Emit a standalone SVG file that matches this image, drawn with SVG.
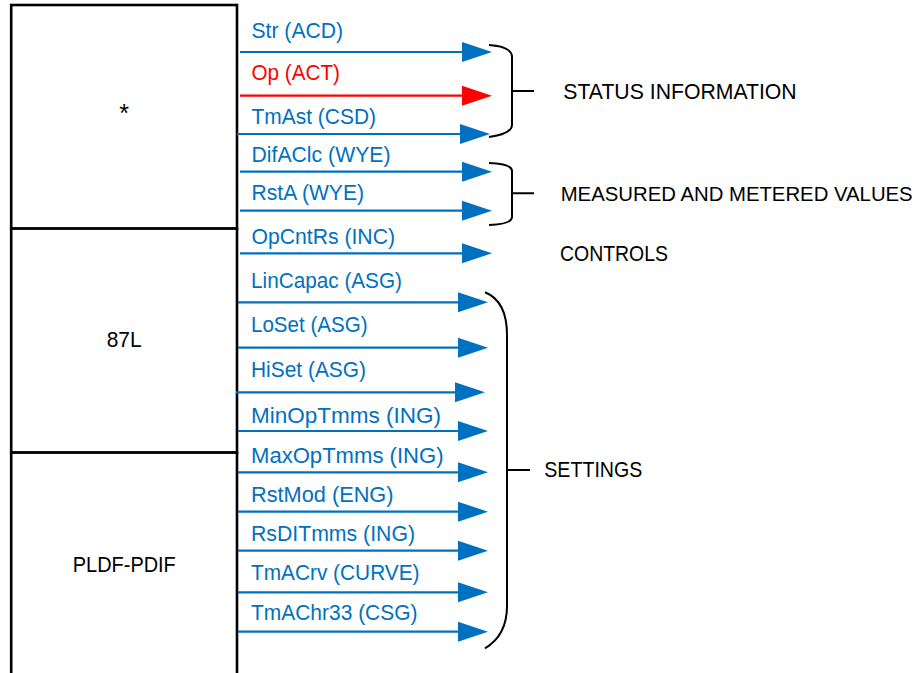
<svg xmlns="http://www.w3.org/2000/svg" width="924" height="673" viewBox="0 0 924 673">
  <style>
    .box { fill: #ffffff; stroke: #000000; stroke-width: 2.6; }
    .txt { font-family: "Liberation Sans", Arial, sans-serif; font-size: 22px; fill: #000000; }
    .lbl { font-family: "Liberation Sans", Arial, sans-serif; font-size: 22px; fill: #0070C0; }
    .lbl.red { fill: #FF0000; }
    .wire { stroke: #0070C0; stroke-width: 2.2; fill: none; marker-end: url(#headBlue); }
    .wire.red { stroke: #FF0000; marker-end: url(#headRed); }
    .brace { stroke: #000000; stroke-width: 2; fill: none; }
  </style>
  <defs>
    <marker id="headBlue" markerUnits="userSpaceOnUse" markerWidth="30" markerHeight="20" refX="20" refY="10" orient="auto" overflow="visible">
      <path d="M0,0 L30,10 L0,20 Z" fill="#0070C0"/>
    </marker>
    <marker id="headRed" markerUnits="userSpaceOnUse" markerWidth="30" markerHeight="20" refX="20" refY="10" orient="auto" overflow="visible">
      <path d="M0,0 L30,10 L0,20 Z" fill="#FF0000"/>
    </marker>
  </defs>

  <!-- logical node stack -->
  <g id="node-common">
    <rect class="box" x="11.2" y="5" width="225.8" height="223.6"/>
    <text class="txt" x="124" y="122" text-anchor="middle" style="font-size:25px">*</text>
  </g>
  <g id="node-87L">
    <rect class="box" x="11.2" y="228.6" width="225.8" height="224"/>
    <text class="txt" x="124.2" y="347.3" text-anchor="middle" textLength="35" lengthAdjust="spacingAndGlyphs">87L</text>
  </g>
  <g id="node-pldf-pdif">
    <rect class="box" x="11.2" y="452.6" width="225.8" height="260"/>
    <text class="txt" x="124.3" y="571.7" text-anchor="middle" textLength="103" lengthAdjust="spacingAndGlyphs">PLDF-PDIF</text>
  </g>

  <!-- data objects -->
  <g id="connectors">
    <line class="wire" x1="240" y1="52" x2="482" y2="52"/>
    <text class="lbl" x="251.5" y="38" textLength="91.5" lengthAdjust="spacingAndGlyphs">Str (ACD)</text>

    <line class="wire red" x1="240" y1="95.7" x2="482" y2="95.7"/>
    <text class="lbl red" x="251.5" y="80" textLength="88.5" lengthAdjust="spacingAndGlyphs">Op (ACT)</text>

    <line class="wire" x1="237" y1="134" x2="480" y2="134"/>
    <text class="lbl" x="251.5" y="124" textLength="124.5" lengthAdjust="spacingAndGlyphs">TmAst (CSD)</text>

    <line class="wire" x1="240" y1="171.7" x2="482" y2="171.7"/>
    <text class="lbl" x="251.5" y="162.3" textLength="139" lengthAdjust="spacingAndGlyphs">DifAClc (WYE)</text>

    <line class="wire" x1="240" y1="210.7" x2="482" y2="210.7"/>
    <text class="lbl" x="251.5" y="200" textLength="112.5" lengthAdjust="spacingAndGlyphs">RstA (WYE)</text>

    <line class="wire" x1="240" y1="253.3" x2="482" y2="253.3"/>
    <text class="lbl" x="251.5" y="244" textLength="143.5" lengthAdjust="spacingAndGlyphs">OpCntRs (INC)</text>

    <line class="wire" x1="238" y1="302.3" x2="478" y2="302.3"/>
    <text class="lbl" x="251" y="288.3" textLength="151" lengthAdjust="spacingAndGlyphs">LinCapac (ASG)</text>

    <line class="wire" x1="238" y1="347.7" x2="478" y2="347.7"/>
    <text class="lbl" x="251" y="331.7" textLength="116.5" lengthAdjust="spacingAndGlyphs">LoSet (ASG)</text>

    <line class="wire" x1="236" y1="392.3" x2="475" y2="392.3"/>
    <text class="lbl" x="251" y="377.3" textLength="115" lengthAdjust="spacingAndGlyphs">HiSet (ASG)</text>

    <line class="wire" x1="238" y1="431" x2="478" y2="431"/>
    <text class="lbl" x="251" y="423.3" textLength="190" lengthAdjust="spacingAndGlyphs">MinOpTmms (ING)</text>

    <line class="wire" x1="238" y1="472.3" x2="478" y2="472.3"/>
    <text class="lbl" x="251" y="462.7" textLength="192.5" lengthAdjust="spacingAndGlyphs">MaxOpTmms (ING)</text>

    <line class="wire" x1="238" y1="511.7" x2="478" y2="511.7"/>
    <text class="lbl" x="251" y="501.7" textLength="142.5" lengthAdjust="spacingAndGlyphs">RstMod (ENG)</text>

    <line class="wire" x1="238" y1="550.7" x2="478" y2="550.7"/>
    <text class="lbl" x="251" y="541" textLength="164" lengthAdjust="spacingAndGlyphs">RsDITmms (ING)</text>

    <line class="wire" x1="238" y1="592.3" x2="478" y2="592.3"/>
    <text class="lbl" x="251" y="580" textLength="168.5" lengthAdjust="spacingAndGlyphs">TmACrv (CURVE)</text>

    <line class="wire" x1="238" y1="631.7" x2="478" y2="631.7"/>
    <text class="lbl" x="251" y="620" textLength="166.5" lengthAdjust="spacingAndGlyphs">TmAChr33 (CSG)</text>
  </g>

  <!-- category braces -->
  <g id="group-status">
    <path class="brace" d="M489,45 C503,46 512,50 512,57 V125 C512,131 503,135 489,137 M512,91 H534"/>
    <text class="txt" x="563.3" y="99" textLength="233.4" lengthAdjust="spacingAndGlyphs">STATUS INFORMATION</text>
  </g>
  <g id="group-measured">
    <path class="brace" d="M489,163 C503,163.5 512,166 512,171 V217 C512,222 503,224.5 489,225 M512,193.3 H534"/>
    <text class="txt" x="560.7" y="200.7" style="font-size:20px" textLength="352" lengthAdjust="spacingAndGlyphs">MEASURED AND METERED VALUES</text>
  </g>
  <g id="group-controls">
    <text class="txt" x="560" y="261" textLength="108" lengthAdjust="spacingAndGlyphs">CONTROLS</text>
  </g>
  <g id="group-settings">
    <path class="brace" d="M485,292.3 C499,298 507,312 507,335 V606 C507,626 499,640 485,648.3 M507,470 H530"/>
    <text class="txt" x="544.3" y="476.7" textLength="98" lengthAdjust="spacingAndGlyphs">SETTINGS</text>
  </g>
</svg>
